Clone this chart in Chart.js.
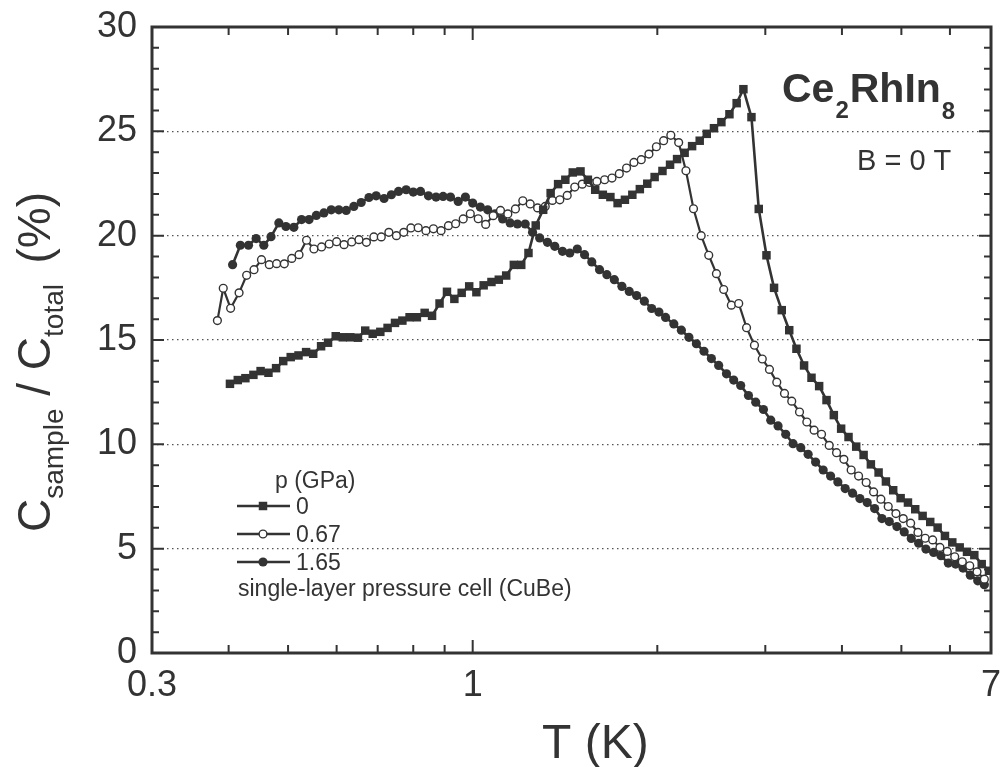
<!DOCTYPE html>
<html>
<head>
<meta charset="utf-8">
<script src="https://cdn.jsdelivr.net/npm/chart.js@4.4.1/dist/chart.umd.min.js"></script>
<style>
  html, body { margin: 0; padding: 0; background: #fff; }
  canvas { display: block; }
</style>
</head>
<body>
<canvas id="chart" width="1007" height="767"></canvas>
<script>
// p = 0 GPa (squares)
const temp0 = [0.402, 0.414, 0.426, 0.439, 0.451, 0.4645, 0.478, 0.491, 0.505, 0.520,
  0.535, 0.5495, 0.566, 0.581, 0.598, 0.614, 0.6315, 0.650, 0.668, 0.687,
  0.707, 0.7265, 0.747, 0.768, 0.789, 0.811, 0.835, 0.8585, 0.883, 0.908,
  0.9335, 0.9595, 0.987, 1.014, 1.042, 1.073, 1.103, 1.134, 1.167, 1.200,
  1.233, 1.267, 1.303, 1.340, 1.378, 1.416, 1.456, 1.499, 1.541, 1.584,
  1.630, 1.677, 1.723, 1.771, 1.821, 1.873, 1.926, 1.980, 2.039, 2.098,
  2.154, 2.216, 2.279, 2.345, 2.408, 2.474, 2.544, 2.622, 2.694, 2.763,
  2.848, 2.927, 3.013, 3.100, 3.191, 3.282, 3.372, 3.470, 3.568, 3.672,
  3.775, 3.880, 3.988, 4.100, 4.220, 4.339, 4.459, 4.590, 4.718, 4.849,
  4.986, 5.125, 5.267, 5.415, 5.572, 5.729, 5.889, 6.053, 6.224, 6.397,
  6.575, 6.760, 6.948];
const ratio0 = [12.90, 13.08, 13.17, 13.33, 13.51, 13.43, 13.65, 13.99, 14.18, 14.26,
  14.42, 14.34, 14.70, 14.87, 15.18, 15.13, 15.13, 15.11, 15.45, 15.30,
  15.39, 15.58, 15.82, 15.93, 16.09, 16.09, 16.30, 16.16, 16.75, 17.31,
  16.97, 17.26, 17.57, 17.29, 17.62, 17.78, 17.89, 18.09, 18.60, 18.60,
  19.17, 20.49, 21.24, 22.04, 22.47, 22.68, 23.03, 23.08, 22.68, 22.20,
  21.96, 21.85, 21.56, 21.72, 21.96, 22.23, 22.49, 22.81, 23.10, 23.40,
  23.67, 23.97, 24.29, 24.55, 24.88, 25.15, 25.44, 25.82, 26.35, 27.02,
  25.68, 21.28, 19.06, 17.50, 16.43, 15.47, 14.58, 13.78, 13.19, 12.79,
  12.12, 11.40, 10.75, 10.35, 9.89, 9.49, 9.04, 8.65, 8.22, 7.80,
  7.42, 7.21, 6.89, 6.57, 6.28, 6.01, 5.61, 5.30, 5.06, 4.85,
  4.69, 4.26, 3.94];

// p = 0.67 GPa (open circles)
const temp067 = [0.3835, 0.392, 0.403, 0.416, 0.428, 0.440, 0.4525, 0.466, 0.479, 0.493,
  0.507, 0.521, 0.536, 0.551, 0.567, 0.5835, 0.600, 0.617, 0.635, 0.6525,
  0.671, 0.690, 0.7095, 0.730, 0.751, 0.772, 0.793, 0.815, 0.839, 0.863,
  0.888, 0.913, 0.938, 0.965, 0.991, 1.021, 1.050, 1.080, 1.110, 1.141,
  1.174, 1.207, 1.241, 1.276, 1.313, 1.349, 1.387, 1.426, 1.467, 1.509,
  1.551, 1.594, 1.641, 1.687, 1.734, 1.782, 1.832, 1.883, 1.938, 1.993,
  2.048, 2.104, 2.167, 2.227, 2.291, 2.358, 2.426, 2.497, 2.566, 2.641,
  2.715, 2.796, 2.880, 2.966, 3.047, 3.132, 3.224, 3.313, 3.411, 3.506,
  3.603, 3.705, 3.813, 3.920, 4.029, 4.141, 4.258, 4.381, 4.505, 4.630,
  4.759, 4.899, 5.035, 5.177, 5.321, 5.468, 5.623, 5.779, 5.941, 6.109,
  6.285, 6.463, 6.642, 6.827];
const ratio067 = [15.93, 17.48, 16.52, 17.26, 18.10, 18.37, 18.85, 18.61, 18.66, 18.65,
  18.91, 19.09, 19.78, 19.36, 19.46, 19.60, 19.71, 19.57, 19.70, 19.81,
  19.68, 19.94, 19.94, 20.16, 20.00, 20.16, 20.37, 20.38, 20.24, 20.33,
  20.24, 20.48, 20.57, 20.80, 21.05, 20.81, 20.54, 20.96, 21.21, 21.04,
  21.28, 21.67, 21.52, 21.33, 21.40, 21.69, 21.72, 21.93, 22.33, 22.47,
  22.55, 22.60, 22.68, 22.76, 22.97, 23.24, 23.51, 23.64, 23.91, 24.26,
  24.55, 24.81, 24.46, 23.11, 21.29, 20.00, 19.06, 18.18, 17.42, 16.67,
  16.75, 15.59, 14.75, 14.09, 13.59, 12.98, 12.44, 12.07, 11.55, 11.07,
  10.68, 10.48, 9.95, 9.60, 9.28, 8.77, 8.48, 8.17, 7.72, 7.37,
  7.02, 6.68, 6.44, 6.22, 5.78, 5.50, 5.42, 5.06, 4.87, 4.61,
  4.37, 4.18, 3.89, 3.54];

// p = 1.65 GPa (filled circles)
const temp165 = [0.406, 0.418, 0.431, 0.4435, 0.4565, 0.469, 0.483, 0.496, 0.511, 0.526,
  0.541, 0.556, 0.572, 0.588, 0.605, 0.622, 0.640, 0.658, 0.6775, 0.696,
  0.717, 0.737, 0.757, 0.779, 0.800, 0.822, 0.847, 0.8715, 0.895, 0.920,
  0.947, 0.973, 1.000, 1.029, 1.058, 1.088, 1.119, 1.151, 1.183, 1.218,
  1.252, 1.286, 1.324, 1.361, 1.401, 1.440, 1.481, 1.522, 1.564, 1.610,
  1.655, 1.702, 1.751, 1.800, 1.850, 1.905, 1.958, 2.012, 2.063, 2.128,
  2.189, 2.252, 2.316, 2.383, 2.450, 2.518, 2.593, 2.664, 2.735, 2.816,
  2.894, 2.979, 3.062, 3.147, 3.239, 3.329, 3.427, 3.523, 3.623, 3.728,
  3.833, 3.939, 4.049, 4.163, 4.279, 4.398, 4.522, 4.648, 4.777, 4.917,
  5.054, 5.189, 5.335, 5.483, 5.644, 5.801, 5.963, 6.131, 6.302, 6.477,
  6.660, 6.827];
const ratio165 = [18.61, 19.54, 19.54, 19.86, 19.54, 19.95, 20.61, 20.44, 20.40, 20.77,
  20.77, 20.97, 21.09, 21.24, 21.24, 21.21, 21.40, 21.59, 21.83, 21.91,
  21.78, 21.96, 22.12, 22.20, 22.09, 22.12, 21.91, 21.85, 21.88, 21.85,
  21.64, 21.85, 21.56, 21.37, 21.24, 21.05, 20.80, 20.61, 20.56, 20.56,
  20.16, 19.89, 19.68, 19.49, 19.25, 19.17, 19.36, 19.09, 18.74, 18.37,
  18.13, 17.89, 17.57, 17.33, 17.13, 16.86, 16.51, 16.34, 16.08, 15.77,
  15.47, 15.13, 14.82, 14.46, 14.11, 13.78, 13.38, 13.08, 12.82, 12.34,
  12.02, 11.67, 11.16, 10.88, 10.48, 10.03, 9.84, 9.52, 9.15, 8.77,
  8.48, 8.20, 7.88, 7.66, 7.40, 7.21, 6.92, 6.44, 6.30, 6.06,
  5.80, 5.49, 5.26, 4.98, 4.82, 4.66, 4.31, 4.26, 4.07, 3.73,
  3.46, 3.27];

// osie
const xTickLabels = [0.3, 1, 7];
const xMinorTicks = [0.4, 0.5, 0.6, 0.7, 0.8, 0.9, 2, 3, 4, 5, 6];
const yTickLabels = [0, 5, 10, 15, 20, 25, 30];
const seriesNames = ['0', '0.67', '1.65'];

const ink = '#333333';
const fontFamily = '"Liberation Sans", Arial, Helvetica, sans-serif';

function toPoints(xs, ys) {
    return xs.map((x, i) => ({ x: x, y: ys[i] }));
}

// Rysowanie ramki, ticków, napisów i legendy
const decorPlugin = {
    id: 'decor',
    afterDraw(chart) {
        const ctx = chart.ctx;
        const a = chart.chartArea;
        const xs = chart.scales.x;
        const ys = chart.scales.y;

        ctx.save();
        ctx.strokeStyle = ink;
        ctx.lineWidth = 2;
        ctx.beginPath();
        for (let v = 1; v < 30; v++) {
            const py = ys.getPixelForValue(v);
            const len = v % 5 === 0 ? 12 : 7;
            ctx.moveTo(a.left, py); ctx.lineTo(a.left + len, py);
            ctx.moveTo(a.right, py); ctx.lineTo(a.right - len, py);
        }
        xMinorTicks.concat([1]).forEach(v => {
            const px = xs.getPixelForValue(v);
            const len = v === 1 ? 13 : 8;
            ctx.moveTo(px, a.bottom); ctx.lineTo(px, a.bottom - len);
            ctx.moveTo(px, a.top); ctx.lineTo(px, a.top + len);
        });
        ctx.stroke();

        ctx.lineWidth = 3;
        ctx.strokeRect(a.left, a.top, a.right - a.left, a.bottom - a.top);

        ctx.fillStyle = ink;
        ctx.textBaseline = 'alphabetic';
        ctx.textAlign = 'left';

        // tytuł: Ce2RhIn8
        let tx = 782;
        ctx.font = 'bold 41px ' + fontFamily;
        ctx.fillText('Ce', tx, 102); tx += ctx.measureText('Ce').width;
        ctx.font = 'bold 24px ' + fontFamily;
        ctx.fillText('2', tx + 1, 118); tx += ctx.measureText('2').width + 2;
        ctx.font = 'bold 41px ' + fontFamily;
        ctx.fillText('RhIn', tx, 102); tx += ctx.measureText('RhIn').width;
        ctx.font = 'bold 24px ' + fontFamily;
        ctx.fillText('8', tx + 1, 119);

        ctx.font = '29px ' + fontFamily;
        ctx.fillText('B = 0 T', 857, 170);

        // oś X
        ctx.font = '48px ' + fontFamily;
        ctx.fillText('T (K)', 542, 758);

        // oś Y z indeksami dolnymi
        ctx.save();
        ctx.translate(50, 532);
        ctx.rotate(-Math.PI / 2);
        let p = 0;
        const big = '46px ' + fontFamily;
        const small = '28px ' + fontFamily;
        [['C', big, 0], ['sample', small, 13], [' / ', big, 0], ['C', big, 0], ['total', small, 13]].forEach(part => {
            ctx.font = part[1];
            ctx.fillText(part[0], p, part[2]);
            p += ctx.measureText(part[0]).width;
        });
        ctx.font = big;
        ctx.textAlign = 'right';
        ctx.fillText('(%)', 340, 0);
        ctx.restore();

        // legenda
        ctx.font = '23px ' + fontFamily;
        ctx.fillText('p (GPa)', 275, 488);
        const styles = chart.data.datasets;
        [506, 534, 562].forEach((ly, i) => {
            ctx.strokeStyle = ink;
            ctx.lineWidth = 2.6;
            ctx.beginPath();
            ctx.moveTo(237, ly); ctx.lineTo(290, ly);
            ctx.stroke();
            const ds = styles[i];
            ctx.fillStyle = ds.pointBackgroundColor;
            ctx.strokeStyle = ink;
            ctx.lineWidth = ds.pointBorderWidth;
            Chart.helpers.drawPoint(ctx, {
                pointStyle: ds.pointStyle,
                radius: ds.pointRadius,
                rotation: 0,
                borderWidth: ds.pointBorderWidth
            }, 263, ly);
            ctx.fillStyle = ink;
            ctx.fillText(seriesNames[i], 296, ly + 8);
        });
        ctx.fillText('single-layer pressure cell (CuBe)', 238, 596);

        ctx.restore();
    }
};

const tickFont = { family: fontFamily, size: 36 };

const ctx = document.getElementById('chart').getContext('2d');
const chart = new Chart(ctx, {
    type: 'scatter',
    data: {
        datasets: [{
            label: '0',
            data: toPoints(temp0, ratio0),
            showLine: true,
            borderColor: ink,
            borderWidth: 2.6,
            pointStyle: 'rect',
            pointRadius: 6,
            pointBackgroundColor: ink,
            pointBorderColor: ink,
            pointBorderWidth: 0
        }, {
            label: '0.67',
            data: toPoints(temp067, ratio067),
            showLine: true,
            borderColor: ink,
            borderWidth: 2.2,
            pointStyle: 'circle',
            pointRadius: 3.9,
            pointBackgroundColor: '#ffffff',
            pointBorderColor: ink,
            pointBorderWidth: 1.4
        }, {
            label: '1.65',
            data: toPoints(temp165, ratio165),
            showLine: true,
            borderColor: ink,
            borderWidth: 2.6,
            pointStyle: 'circle',
            pointRadius: 4.6,
            pointBackgroundColor: ink,
            pointBorderColor: ink,
            pointBorderWidth: 0
        }]
    },
    options: {
        responsive: false,
        animation: false,
        devicePixelRatio: 1,
        layout: { padding: { top: 27, right: 16, left: 0, bottom: 0 } },
        plugins: {
            legend: { display: false },
            tooltip: { enabled: false }
        },
        scales: {
            x: {
                type: 'logarithmic',
                min: 0.3,
                max: 7,
                afterBuildTicks: axis => { axis.ticks = xTickLabels.map(v => ({ value: v })); },
                afterFit: axis => {
                    axis.height = 114;
                    axis.paddingLeft = 0;
                    axis.paddingRight = 0;
                },
                grid: { display: false },
                border: { display: false },
                ticks: {
                    font: tickFont,
                    color: ink,
                    padding: 3,
                    maxRotation: 0,
                    autoSkip: false,
                    callback: v => String(v)
                }
            },
            y: {
                min: 0,
                max: 30,
                afterBuildTicks: axis => { axis.ticks = yTickLabels.map(v => ({ value: v })); },
                afterFit: axis => {
                    axis.width = 152;
                    axis.paddingTop = 0;
                    axis.paddingBottom = 0;
                },
                grid: {
                    color: c => (c.tick && c.tick.value > 0 && c.tick.value < 30) ? '#555555' : 'rgba(0,0,0,0)',
                    lineWidth: 1.3,
                    drawTicks: false
                },
                border: { display: false, dash: [1.5, 3.5] },
                ticks: {
                    font: tickFont,
                    color: ink,
                    padding: 15
                }
            }
        }
    },
    plugins: [decorPlugin]
});
</script>
</body>
</html>
